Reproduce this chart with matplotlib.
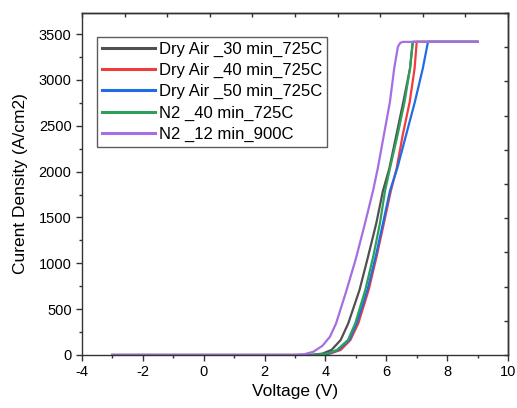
import numpy as np
import matplotlib
matplotlib.use("Agg")
import matplotlib.pyplot as plt
from matplotlib.ticker import MultipleLocator

plt.rcParams['font.family'] = ['Liberation Sans', 'DejaVu Sans']
plt.rcParams['axes.unicode_minus'] = False

labels = ["Dry Air _30 min_725C", "Dry Air _40 min_725C", "Dry Air _50 min_725C",
          "N2 _40 min_725C", "N2 _12 min_900C"]
colors = ["#505050", "#f03c3c", "#1f6ce6", "#2ea05c", "#a66ee2"]

j_common = [0, 0, 15, 55, 163, 345, 709, 1072, 1435, 1790, 2035, 2398, 2761, 3125, 3415, 3415]

v_dry30 = [-3, 3.5, 3.9, 4.2, 4.5, 4.75, 5.12, 5.40, 5.67, 5.89, 6.10, 6.33, 6.56, 6.78, 6.87, 9.0]
j_dry30 = j_common
v_dry40 = [-3, 3.7, 4.15, 4.5, 4.82, 5.08, 5.42, 5.68, 5.92, 6.15, 6.34, 6.54, 6.77, 6.93, 7.0, 9.0]
j_dry40 = j_common
v_dry50 = [-3, 3.65, 4.1, 4.42, 4.78, 5.03, 5.38, 5.65, 5.89, 6.12, 6.36, 6.65, 6.94, 7.20, 7.37, 9.0]
j_dry50 = j_common
v_n2_40 = [-3, 3.6, 4.05, 4.38, 4.74, 4.98, 5.31, 5.57, 5.79, 5.96, 6.12, 6.37, 6.60, 6.78, 6.87, 9.0]
j_n2_40 = j_common
v_n2_12 = [-3, 3.0, 3.3, 3.6, 3.9, 4.15, 4.35, 4.67, 5.0, 5.30, 5.57, 5.72, 5.92, 6.12, 6.26, 6.38, 6.46, 6.55, 9.0]
j_n2_12 = [0, 0, 8, 35, 100, 200, 345, 680, 1050, 1435, 1799, 2035, 2398, 2761, 3125, 3360, 3405, 3415, 3415]

series = [(v_dry30, j_dry30), (v_dry40, j_dry40), (v_dry50, j_dry50),
          (v_n2_40, j_n2_40), (v_n2_12, j_n2_12)]

fig = plt.figure(figsize=(5.17, 4.08), dpi=100)
ax = fig.add_axes([82/517, 1-355/408, 426/517, 342/408])

for (v, j), c, lab in zip(series, colors, labels):
    ax.plot(v, j, color=c, lw=1.6, label=lab, solid_joinstyle='round')

ax.set_xlim(-4, 10)
ax.set_ylim(0, 3730)
ax.xaxis.set_major_locator(MultipleLocator(2))
ax.xaxis.set_minor_locator(MultipleLocator(1))
ax.yaxis.set_major_locator(MultipleLocator(500))
ax.yaxis.set_minor_locator(MultipleLocator(250))
ax.tick_params(which='major', direction='out', length=4, width=1, labelsize=10.5, color='#333333')
ax.tick_params(which='minor', direction='out', length=2.5, width=1, color='#333333')
for s in ax.spines.values():
    s.set_linewidth(1.0)
    s.set_color('#333333')

secx = ax.secondary_xaxis('top')
secx.set_xticks(np.linspace(-4, 10, 11))
secx.tick_params(direction='in', length=3, labeltop=False, width=1, color='#333333')
secx.spines['top'].set_linewidth(1.0)
secy = ax.secondary_yaxis('right')
secy.set_yticks(np.linspace(0, 3730, 11))
secy.tick_params(direction='in', length=3, labelright=False, width=1, color='#333333')
secy.spines['right'].set_linewidth(1.0)

ax.set_xlabel("Voltage (V)", fontsize=12.5, labelpad=3)
ax.set_ylabel("Curent Density (A/cm2)", fontsize=12.5, labelpad=8)

leg = ax.legend(loc='upper left', bbox_to_anchor=(0.035, 0.93), borderaxespad=0,
                fontsize=12, frameon=True, fancybox=False, edgecolor='#333333',
                handlelength=3.2, handletextpad=0.2, labelspacing=0.36,
                borderpad=0.3)
leg.get_frame().set_linewidth(1.0)
for h in leg.get_lines():
    h.set_linewidth(2.2)

fig.savefig("out.png", dpi=100)
